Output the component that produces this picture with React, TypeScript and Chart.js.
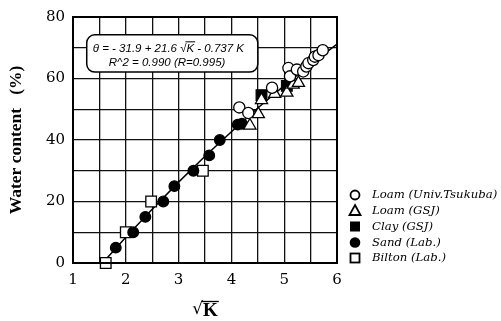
import React, { useEffect, useRef } from 'react';
import { Chart, registerables } from 'chart.js';

Chart.register(...registerables);

// ---- data ----
const loamUnivX = [4.15, 4.32, 4.77, 5.08, 5.11, 5.24, 5.36, 5.42, 5.46, 5.55, 5.58, 5.65, 5.73];
const loamUnivY = [50.6, 48.8, 57.0, 63.4, 60.7, 62.9, 62.3, 63.9, 65.0, 66.0, 67.1, 67.6, 69.2];

const loamGsjX = [4.35, 4.51, 4.57, 4.82, 5.05, 5.17, 5.27];
const loamGsjY = [44.7, 48.4, 53.0, 55.0, 55.4, 58.0, 58.6];

const clayX = [4.57, 5.05];
const clayY = [54.6, 57.6];

const sandX = [1.81, 2.14, 2.37, 2.71, 2.92, 3.28, 3.58, 3.78, 4.12, 4.2];
const sandY = [5, 10, 15, 20, 25, 30, 35, 40, 45, 45.3];

const biltonX = [1.62, 2.0, 2.48, 3.46];
const biltonY = [0, 10, 20, 30];

const fitX = [1.56, 2, 2.5, 3, 3.5, 4, 4.5, 5, 5.5, 6];
const fitY = [0, 8.4, 17.5, 26.3, 34.7, 42.7, 50.4, 57.7, 64.6, 71.2];

const seriesNames = ['Loam (Univ.Tsukuba)', 'Loam (GSJ)', 'Clay (GSJ)', 'Sand (Lab.)', 'Bilton (Lab.)'];
const yTitle = 'Water content   (%)';
const xTitleRoot = '√';
const xTitleVar = 'K';
const eqPart1 = 'θ = - 31.9 + 21.6 ';
const eqRoot = '√';
const eqVar = 'K';
const eqPart2 = ' - 0.737 K';
const r2Text = 'R^2 = 0.990 (R=0.995)';

const xMin = 1, xMax = 6, xStep = 0.5;
const yMin = 0, yMax = 80, yStep = 10;

const pts = (xs: number[], ys: number[]) => xs.map((x, i) => ({ x, y: ys[i] }));

const framePlugin = {
  id: 'frame',
  afterDatasetsDraw(chart: any) {
    const { ctx, chartArea: a } = chart;
    ctx.save();
    ctx.strokeStyle = '#000';
    ctx.lineWidth = 2;
    ctx.strokeRect(a.left, a.top, a.right - a.left, a.bottom - a.top);
    ctx.restore();
  },
};

const annotationPlugin = {
  id: 'eqBox',
  afterDatasetsDraw(chart: any) {
    const { ctx } = chart;
    const xs = chart.scales.x, ys = chart.scales.y;
    const x0 = xs.getPixelForValue(1.26), x1 = xs.getPixelForValue(4.5);
    const y0 = ys.getPixelForValue(74.2), y1 = ys.getPixelForValue(62.1);
    ctx.save();
    ctx.fillStyle = '#fff';
    ctx.strokeStyle = '#000';
    ctx.lineWidth = 1.5;
    ctx.beginPath();
    (ctx as any).roundRect(x0, y0, x1 - x0, y1 - y0, 8);
    ctx.fill();
    ctx.stroke();
    ctx.fillStyle = '#000';
    ctx.font = 'italic 11.5px "Liberation Sans", Arial, sans-serif';
    ctx.textBaseline = 'middle';
    ctx.textAlign = 'left';
    let tx = x0 + 6;
    const ty = y0 + 13.5;
    ctx.fillText(eqPart1, tx, ty);
    tx += ctx.measureText(eqPart1).width;
    ctx.fillText(eqRoot, tx, ty);
    const rw = ctx.measureText(eqRoot).width;
    tx += rw;
    ctx.fillText(eqVar, tx, ty);
    const kw = ctx.measureText(eqVar).width;
    ctx.lineWidth = 1;
    ctx.beginPath();
    ctx.moveTo(tx - 1, ty - 6.5);
    ctx.lineTo(tx + kw + 1, ty - 6.5);
    ctx.stroke();
    tx += kw;
    ctx.fillText(eqPart2, tx, ty);
    ctx.fillText(r2Text, x0 + 22, y0 + 27.5);
    ctx.restore();
  },
};

const xTitlePlugin = {
  id: 'xTitle',
  afterDraw(chart: any) {
    const { ctx, chartArea: a } = chart;
    const cx = (a.left + a.right) / 2;
    const cy = 310;
    ctx.save();
    ctx.fillStyle = '#000';
    ctx.strokeStyle = '#000';
    ctx.textBaseline = 'middle';
    ctx.textAlign = 'left';
    ctx.font = '17px "DejaVu Serif", serif';
    const rw = ctx.measureText(xTitleRoot).width;
    ctx.font = 'bold 19px "Liberation Serif", serif';
    const kw = ctx.measureText(xTitleVar).width;
    const start = cx - (rw + kw) / 2;
    ctx.font = '17px "DejaVu Serif", serif';
    ctx.fillText(xTitleRoot, start, cy);
    ctx.font = 'bold 19px "Liberation Serif", serif';
    ctx.fillText(xTitleVar, start + rw, cy + 1);
    ctx.lineWidth = 1.3;
    ctx.beginPath();
    ctx.moveTo(start + rw - 1, cy - 8.5);
    ctx.lineTo(start + rw + kw + 1, cy - 8.5);
    ctx.stroke();
    ctx.restore();
  },
};

const legendPlugin = {
  id: 'customLegend',
  afterDraw(chart: any) {
    const { ctx } = chart;
    const rowY = [195, 210.5, 226.5, 242.5, 258];
    const mx = 355;
    const tx = 372;
    ctx.save();
    ctx.strokeStyle = '#000';
    ctx.fillStyle = '#000';
    ctx.lineWidth = 1.8;
    seriesNames.forEach((name, i) => {
      const y = rowY[i];
      ctx.beginPath();
      if (i === 0) {
        ctx.arc(mx, y, 4.5, 0, Math.PI * 2);
        ctx.stroke();
      } else if (i === 1) {
        ctx.moveTo(mx, y - 5.5);
        ctx.lineTo(mx + 5.5, y + 4.5);
        ctx.lineTo(mx - 5.5, y + 4.5);
        ctx.closePath();
        ctx.stroke();
      } else if (i === 2) {
        ctx.fillRect(mx - 5, y - 5, 10, 10);
      } else if (i === 3) {
        ctx.arc(mx, y, 5.3, 0, Math.PI * 2);
        ctx.fill();
      } else {
        ctx.strokeRect(mx - 4.5, y - 4.5, 9, 9);
      }
      ctx.font = 'italic 11.7px "DejaVu Serif", serif';
      ctx.textBaseline = 'middle';
      ctx.textAlign = 'left';
      ctx.fillText(name, tx, y);
    });
    ctx.restore();
  },
};

export default function App() {
  const canvasRef = useRef<HTMLCanvasElement | null>(null);

  useEffect(() => {
    if (!canvasRef.current) return;
    const marker = { borderColor: '#000', borderWidth: 1.3 };
    const chart = new Chart(canvasRef.current, {
      type: 'scatter',
      data: {
        datasets: [
          {
            label: 'fit',
            data: pts(fitX, fitY),
            showLine: true,
            pointRadius: 0,
            borderColor: '#000',
            borderWidth: 1.5,
            order: 10,
            clip: false,
          } as any,
          {
            label: seriesNames[0],
            data: pts(loamUnivX, loamUnivY),
            pointStyle: 'circle',
            pointRadius: 5.6,
            backgroundColor: '#fff',
            ...marker,
            clip: false,
          },
          {
            label: seriesNames[1],
            data: pts(loamGsjX, loamGsjY),
            pointStyle: 'triangle',
            pointRadius: 7,
            backgroundColor: '#fff',
            ...marker,
            clip: false,
          },
          {
            label: seriesNames[2],
            data: pts(clayX, clayY),
            pointStyle: 'rect',
            pointRadius: 7.5,
            backgroundColor: '#000',
            ...marker,
            clip: false,
          },
          {
            label: seriesNames[3],
            data: pts(sandX, sandY),
            pointStyle: 'circle',
            pointRadius: 5.3,
            backgroundColor: '#000',
            ...marker,
            clip: false,
          },
          {
            label: seriesNames[4],
            data: pts(biltonX, biltonY),
            pointStyle: 'rect',
            pointRadius: 7.5,
            backgroundColor: '#fff',
            ...marker,
            clip: false,
          },
        ],
      },
      options: {
        animation: false,
        responsive: true,
        maintainAspectRatio: false,
        layout: { padding: { left: 0, right: 164, top: 13, bottom: 0 } },
        plugins: {
          legend: { display: false },
          tooltip: { enabled: false },
        },
        scales: {
          x: {
            type: 'linear',
            min: xMin,
            max: xMax,
            afterFit: (s: any) => { s.height = 58; },
            grid: { color: '#111', lineWidth: 1.3, drawTicks: false },
            border: { display: false },
            ticks: {
              stepSize: xStep,
              autoSkip: false,
              maxRotation: 0,
              padding: 8,
              color: '#000',
              font: { family: '"DejaVu Serif", serif', size: 15 },
              callback: (v: any) => (Number.isInteger(v) ? String(v) : ''),
            },
          },
          y: {
            type: 'linear',
            min: yMin,
            max: yMax,
            afterFit: (s: any) => { s.width = 73; },
            grid: { color: '#111', lineWidth: 1.3, drawTicks: false },
            border: { display: false },
            ticks: {
              stepSize: yStep,
              autoSkip: false,
              padding: 8,
              color: '#000',
              font: { family: '"DejaVu Serif", serif', size: 15 },
              callback: (v: any) => (v % 20 === 0 ? String(v) : ''),
            },
            title: {
              display: true,
              text: yTitle,
              color: '#000',
              font: { family: '"Liberation Serif", serif', size: 17.5, weight: 'bold' },
              padding: { top: 6, bottom: 0 },
            },
          },
        },
      },
      plugins: [framePlugin, annotationPlugin, xTitlePlugin, legendPlugin],
    });
    return () => chart.destroy();
  }, []);

  return (
    <div style={{ position: 'absolute', left: 0, top: 0, width: 501, height: 321, background: '#fff' }}>
      <canvas ref={canvasRef} />
    </div>
  );
}
